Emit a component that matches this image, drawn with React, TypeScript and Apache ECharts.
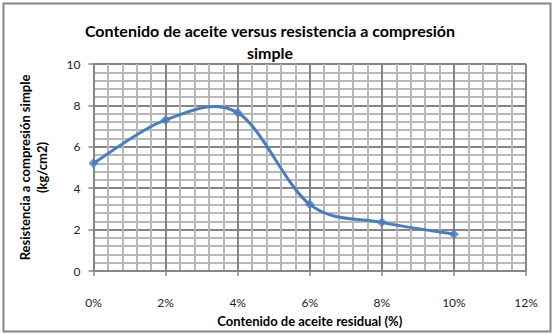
import React, { useEffect, useRef } from "react";
import * as echarts from "echarts";

const xValues = [0, 2, 4, 6, 8, 10];
const yValues = [5.2, 7.3, 7.65, 3.22, 2.35, 1.78];
const titleLines = ["Contenido de aceite versus resistencia a compresión", "simple"];
const xName = "Contenido de aceite residual (%)";
const yNameLines = ["Resistencia a compresión simple", "(kg/cm2)"];

export default function App() {
  const ref = useRef<HTMLDivElement>(null);
  useEffect(() => {
    document.body.style.margin = "0";
    const chart = echarts.init(ref.current!, null, { renderer: "svg" });
    const font = "Lato, 'Open Sans', sans-serif";
    const points = xValues.map((x, i) => [x, yValues[i]]);
    const lineColor = "#4a7ebb";
    chart.setOption({
      animation: false,
      backgroundColor: "#ffffff",
      textStyle: { fontFamily: font },
      title: {
        text: titleLines.join("\n"),
        left: 265,
        top: 14,
        textAlign: "center",
        textStyle: { fontSize: 16, fontWeight: "bold", color: "#000", lineHeight: 22, fontFamily: font },
      },
      graphic: [
        {
          type: "rect",
          shape: { x: 3.5, y: 3.5, width: 547, height: 328 },
          style: { fill: "none", stroke: "#868686", lineWidth: 2 },
          z: -1,
        },
      ],
      grid: { left: 93.5, right: 28, top: 64, bottom: 64, containLabel: false },
      xAxis: {
        type: "value",
        min: 0,
        max: 12,
        interval: 2,
        name: xName,
        nameLocation: "middle",
        nameGap: 43,
        nameTextStyle: { fontSize: 13, fontWeight: "bold", color: "#000", fontFamily: font },
        axisLabel: { formatter: "{value}%", fontSize: 12, color: "#222", margin: 25, fontFamily: font },
        axisLine: { show: true, lineStyle: { color: "#868686", width: 2 } },
        axisTick: { show: true, length: 5, lineStyle: { color: "#868686", width: 1.5 } },
        splitLine: { show: true, lineStyle: { color: "#868686", width: 2 } },
        minorTick: { show: true, splitNumber: 5, length: 0 },
        minorSplitLine: { show: true, lineStyle: { color: "#b8b8b8", width: 2 } },
      },
      yAxis: {
        type: "value",
        min: 0,
        max: 10,
        interval: 2,
        name: yNameLines.join("\n"),
        nameLocation: "middle",
        nameGap: 43,
        nameRotate: 90,
        nameTextStyle: { fontSize: 13, fontWeight: "bold", color: "#000", lineHeight: 17, fontFamily: font },
        axisLabel: { fontSize: 12, color: "#222", margin: 13, fontFamily: font },
        axisLine: { show: true, lineStyle: { color: "#868686", width: 2 } },
        axisTick: { show: true, length: 5, lineStyle: { color: "#868686", width: 1.5 } },
        splitLine: { show: true, lineStyle: { color: "#868686", width: 2 } },
        minorTick: { show: true, splitNumber: 5, length: 0 },
        minorSplitLine: { show: true, lineStyle: { color: "#b8b8b8", width: 2 } },
      },
      series: [
        {
          type: "custom",
          data: points,
          encode: { x: 0, y: 1 },
          clip: false,
          z: 3,
          renderItem: (params: any, api: any) => {
            if (params.dataIndex !== 0) return null;
            const P = points.map((p) => api.coord(p));
            const n = P.length;
            let d = `M${P[0][0]},${P[0][1]}`;
            for (let i = 0; i < n - 1; i++) {
              const p0 = P[Math.max(i - 1, 0)];
              const p1 = P[i];
              const p2 = P[i + 1];
              const p3 = P[Math.min(i + 2, n - 1)];
              const c1x = p1[0] + (p2[0] - p0[0]) / 6;
              const c1y = p1[1] + (p2[1] - p0[1]) / 6;
              const c2x = p2[0] - (p3[0] - p1[0]) / 6;
              const c2y = p2[1] - (p3[1] - p1[1]) / 6;
              d += ` C${c1x},${c1y} ${c2x},${c2y} ${p2[0]},${p2[1]}`;
            }
            return {
              type: "path",
              shape: { pathData: d },
              style: { fill: "none", stroke: lineColor, lineWidth: 3, lineJoin: "round", lineCap: "round" },
            };
          },
        },
        {
          type: "scatter",
          data: points,
          symbol: "diamond",
          symbolSize: 10,
          clip: false,
          z: 4,
          itemStyle: { color: lineColor },
        },
      ],
    });
    return () => chart.dispose();
  }, []);
  return <div ref={ref} style={{ width: 554, height: 335, position: "absolute", left: 0, top: 0 }} />;
}
